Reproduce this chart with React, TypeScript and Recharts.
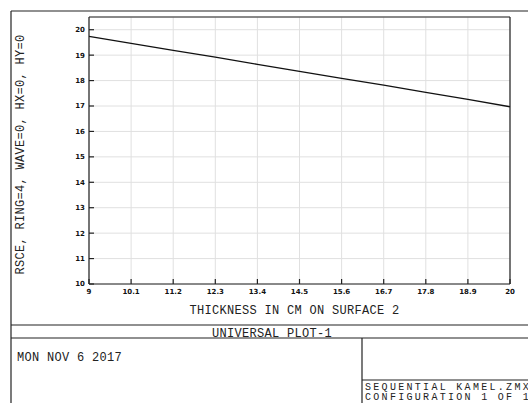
import React from 'react';
import { LineChart, Line, XAxis, YAxis, CartesianGrid } from 'recharts';

const thickness = [9, 10.1, 11.2, 12.3, 13.4, 14.5, 15.6, 16.7, 17.8, 18.9, 20];
const rsce = [19.74, 19.46, 19.19, 18.92, 18.64, 18.36, 18.09, 17.82, 17.54, 17.26, 16.97];
const xTickLabels = ['9', '10.1', '11.2', '12.3', '13.4', '14.5', '15.6', '16.7', '17.8', '18.9', '20'];
const yTicks = [10, 11, 12, 13, 14, 15, 16, 17, 18, 19, 20];

const xTitle = 'THICKNESS IN CM ON SURFACE 2';
const yTitle = 'RSCE, RING=4, WAVE=0, HX=0, HY=0';
const plotTitle = 'UNIVERSAL PLOT-1';
const dateText = 'MON NOV 6 2017';
const fileText = 'SEQUENTIAL KAMEL.ZMX';
const configText = 'CONFIGURATION 1 OF 1';

const data = thickness.map((t, i) => ({ t, v: rsce[i] }));

const FONT = '"Liberation Mono", "DejaVu Sans Mono", monospace';
const txt = { fontFamily: FONT, fontSize: 12, letterSpacing: 0.3, fill: '#222' } as const;
const txtWide = { fontFamily: FONT, fontSize: 10, letterSpacing: 2.3, fill: '#222' } as const;
const tickFont = { fontFamily: '"DejaVu Sans", sans-serif', fontSize: 7, fontWeight: 700, fill: '#111' } as const;
const lineStyle = { stroke: '#222', strokeWidth: 1.2 };

export default function App() {
  return (
    <div style={{ position: 'absolute', left: 0, top: 0, width: 528, height: 403, background: '#fff', overflow: 'hidden' }}>
      <svg width={528} height={403} style={{ position: 'absolute', left: 0, top: 0 }}>
        <g stroke="#222" strokeWidth={1.2} fill="none">
          <line x1={11} y1={11} x2={540} y2={11} />
          <line x1={11} y1={11} x2={11} y2={410} />
          <line x1={11} y1={325} x2={540} y2={325} />
          <line x1={11} y1={338} x2={540} y2={338} />
          <line x1={362} y1={338} x2={362} y2={410} />
          <line x1={362} y1={380} x2={540} y2={380} />
        </g>
        <text x={272} y={337} textAnchor="middle" style={txt}>{plotTitle}</text>
        <text x={17} y={361} style={txt}>{dateText}</text>
        <text x={365} y={390} style={txtWide}>{fileText}</text>
        <text x={365} y={400} style={txtWide}>{configText}</text>
      </svg>
      <div style={{ position: 'absolute', left: 0, top: 0 }}>
        <LineChart width={528} height={403} data={data} margin={{ top: 16, right: 17, left: 0, bottom: 0 }}>
          <CartesianGrid xAxisId="b" yAxisId="l" stroke="#e0e0e0" strokeWidth={1} />
          <XAxis
            xAxisId="b"
            dataKey="t"
            type="number"
            domain={[9, 20]}
            ticks={thickness}
            tickFormatter={(v: number) => xTickLabels[thickness.indexOf(v)] ?? String(v)}
            height={119}
            tickSize={-5}
            tickMargin={10}
            axisLine={lineStyle}
            tickLine={lineStyle}
            tick={tickFont}
            interval={0}
            label={(props: any) => {
              const vb = props.viewBox;
              return (
                <text x={vb.x + vb.width / 2 - 5} y={vb.y + 30} textAnchor="middle" style={txt}>
                  {xTitle}
                </text>
              );
            }}
          />
          <XAxis
            xAxisId="t"
            orientation="top"
            dataKey="t"
            type="number"
            domain={[9, 20]}
            ticks={thickness}
            height={1}
            tickSize={-5}
            tick={false}
            interval={0}
            axisLine={lineStyle}
            tickLine={lineStyle}
          />
          <YAxis
            yAxisId="l"
            type="number"
            domain={[10, 20.5]}
            ticks={yTicks}
            width={89}
            tickSize={-5}
            tickMargin={9}
            axisLine={lineStyle}
            tickLine={lineStyle}
            tick={tickFont}
            interval={0}
            label={(props: any) => {
              const vb = props.viewBox;
              const cy = vb.y + vb.height / 2 + 4;
              return (
                <text x={24} y={cy} textAnchor="middle" transform={`rotate(-90 24 ${cy})`} style={txt}>
                  {yTitle}
                </text>
              );
            }}
          />
          <YAxis
            yAxisId="r"
            orientation="right"
            type="number"
            domain={[10, 20.5]}
            ticks={yTicks}
            width={1}
            tickSize={-5}
            tick={false}
            interval={0}
            axisLine={lineStyle}
            tickLine={lineStyle}
          />
          <Line
            xAxisId="b"
            yAxisId="l"
            dataKey="v"
            type="linear"
            stroke="#111"
            strokeWidth={1.3}
            dot={false}
            isAnimationActive={false}
          />
        </LineChart>
      </div>
    </div>
  );
}
